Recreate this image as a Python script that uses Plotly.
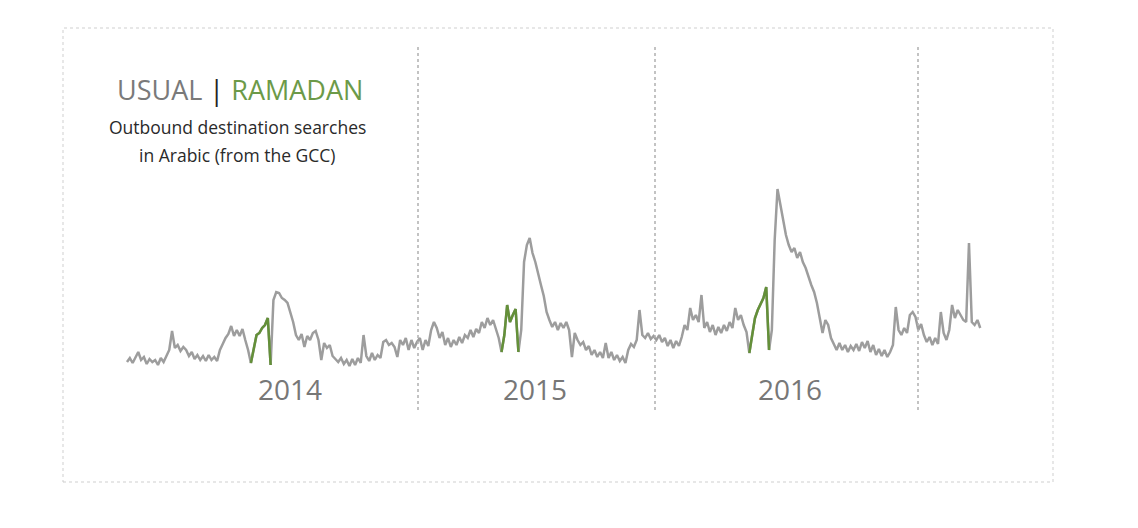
import pandas as pd
import plotly.graph_objects as go

# ---- data (search index, sampled every 4 days from 2014-01-04) ----
start_date = "2014-01-04"
step_days = 4
search_index = [
    13, 17, 12, 18, 23, 15, 18, 11, 16, 13, 15, 10, 17, 13, 19, 25, 44, 27, 30, 24,
    28, 25, 19, 23, 16, 20, 15, 19, 14, 20, 15, 18, 14, 25, 31, 37, 41, 49, 39, 45,
    39, 46, 35, 25, 12, 25, 40, 42, 47, 50, 57, 10, 75, 83, 82, 77, 75, 72, 63, 53,
    40, 35, 41, 28, 39, 35, 42, 44, 35, 15, 32, 27, 30, 19, 16, 13, 17, 11, 15, 9,
    16, 10, 17, 12, 40, 19, 14, 22, 15, 20, 17, 33, 35, 30, 32, 28, 18, 35, 30, 37,
    25, 35, 27, 33, 37, 25, 35, 29, 45, 53, 47, 37, 43, 30, 37, 28, 35, 30, 38, 32,
    40, 37, 45, 38, 46, 42, 53, 47, 57, 50, 55, 47, 37, 23, 40, 70, 53, 60, 66, 23,
    45, 113, 130, 137, 122, 113, 100, 90, 79, 63, 55, 48, 53, 45, 52, 47, 53, 45, 18, 42,
    35, 30, 33, 25, 29, 20, 25, 18, 23, 17, 32, 17, 23, 15, 20, 14, 18, 12, 25, 31,
    28, 35, 65, 40, 37, 42, 36, 39, 35, 40, 33, 37, 29, 35, 27, 34, 29, 38, 50, 45,
    67, 55, 60, 53, 80, 47, 53, 43, 50, 40, 48, 42, 50, 44, 53, 47, 67, 55, 60, 50,
    43, 22, 40, 57, 65, 72, 77, 88, 25, 45, 135, 186, 170, 157, 140, 130, 123, 127, 117, 123,
    113, 107, 98, 90, 83, 72, 57, 42, 55, 50, 37, 30, 25, 32, 25, 30, 23, 29, 25, 31,
    24, 33, 27, 34, 23, 30, 20, 26, 19, 25, 18, 23, 30, 68, 45, 40, 47, 42, 60, 63,
    58, 45, 51, 40, 33, 38, 30, 37, 31, 63, 42, 35, 45, 70, 57, 65, 60, 55, 53, 132,
    53, 50, 55, 47,
]
ramadan_start = ["2014-06-28", "2015-06-18", "2016-06-06"]
ramadan_end = ["2014-07-28", "2015-07-17", "2016-07-05"]
year_labels = ["2014", "2015", "2016"]

dates = pd.date_range(start_date, periods=len(search_index), freq=f"{step_days}D")
df = pd.DataFrame({"date": dates, "value": search_index})

in_ramadan = pd.Series(False, index=df.index)
for s, e in zip(ramadan_start, ramadan_end):
    in_ramadan |= (df["date"] >= pd.Timestamp(s)) & (df["date"] <= pd.Timestamp(e))
ramadan_vals = [v if r else None for v, r in zip(df["value"], in_ramadan)]

# ---- layout geometry ----
W, H = 1138, 528
GRAY = "#9d9d9d"
GREEN = "#649039"
px_per_day = 0.704
x_first_px = 127
t0 = pd.Timestamp(start_date)
x_left = t0 - pd.Timedelta(days=x_first_px / px_per_day)
x_right = t0 + pd.Timedelta(days=(W - x_first_px) / px_per_day)

fig = go.Figure()
fig.add_trace(go.Scatter(x=df["date"], y=df["value"], mode="lines",
                         line=dict(color=GRAY, width=2.5), hoverinfo="skip",
                         showlegend=False))
fig.add_trace(go.Scatter(x=df["date"], y=ramadan_vals, mode="lines",
                         line=dict(color=GREEN, width=2.5), connectgaps=False,
                         hoverinfo="skip", showlegend=False))

def px(x):
    return x / W

def py(y):
    return 1 - y / H

shapes = [dict(type="rect", xref="paper", yref="paper",
               x0=px(63), x1=px(1053), y0=py(482), y1=py(28),
               line=dict(color="#cfcfcf", width=1, dash="dot"))]
for xd in [418, 655, 918]:
    shapes.append(dict(type="line", xref="paper", yref="paper",
                       x0=px(xd), x1=px(xd), y0=py(410), y1=py(46),
                       line=dict(color="#b0b0b0", width=1.5, dash="dot")))

annotations = [
    dict(xref="paper", yref="paper", x=px(240), y=py(89), xanchor="center", yanchor="middle",
         showarrow=False,
         text=("<span style='color:#7a7a7a'>USUAL</span> "
               "<span style='color:#222222'>|</span> "
               "<span style='color:#6c9a48'>RAMADAN</span>"),
         font=dict(family="Open Sans", size=27, color="#7a7a7a")),
    dict(xref="paper", yref="paper", x=px(237), y=py(127), xanchor="center", yanchor="middle",
         showarrow=False, text="Outbound destination searches",
         font=dict(family="Open Sans", size=17.5, color="#2a2a2a")),
    dict(xref="paper", yref="paper", x=px(237), y=py(155), xanchor="center", yanchor="middle",
         showarrow=False, text="in Arabic (from the GCC)",
         font=dict(family="Open Sans", size=17.5, color="#2a2a2a")),
]
for lbl, xc in zip(year_labels, [290, 535, 790]):
    annotations.append(dict(xref="paper", yref="paper", x=px(xc), y=py(389),
                            xanchor="center", yanchor="middle", showarrow=False,
                            text=lbl, font=dict(family="Open Sans", size=28, color="#777777")))

fig.update_layout(
    width=W, height=H, autosize=False,
    margin=dict(l=0, r=0, t=0, b=0, pad=0),
    paper_bgcolor="white", plot_bgcolor="white",
    xaxis=dict(type="date", range=[x_left.isoformat(), x_right.isoformat()],
               visible=False, showgrid=False, zeroline=False, fixedrange=True),
    yaxis=dict(range=[-153, 375], visible=False, showgrid=False, zeroline=False,
               fixedrange=True),
    shapes=shapes, annotations=annotations,
    font=dict(family="Open Sans"),
)

fig.write_html("out.html", config={"displayModeBar": False},
               post_script="document.body.style.margin='0';document.body.style.overflow='hidden';")
